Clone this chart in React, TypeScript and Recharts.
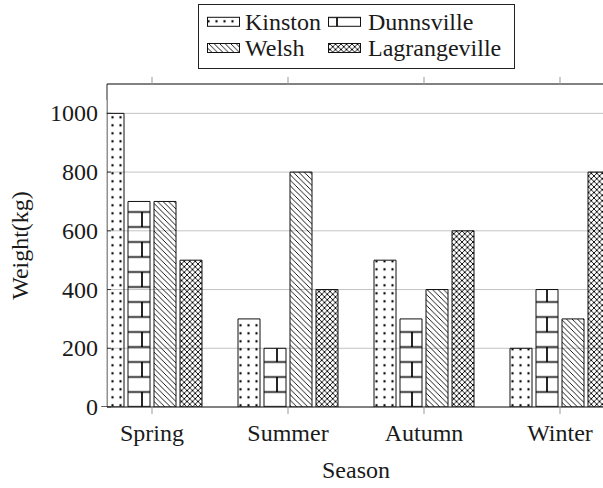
import React from 'react';
import { BarChart, Bar, XAxis, YAxis, CartesianGrid, Label } from 'recharts';

// data
const seasons = ['Spring', 'Summer', 'Autumn', 'Winter'];
const kinston = [1000, 300, 500, 200];
const dunnsville = [700, 200, 300, 400];
const welsh = [700, 800, 400, 300];
const lagrangeville = [500, 400, 600, 800];
const yTicks = [0, 200, 400, 600, 800, 1000];

const series = [
  { key: 'Kinston', values: kinston, pattern: 'dots' },
  { key: 'Dunnsville', values: dunnsville, pattern: 'bricks' },
  { key: 'Welsh', values: welsh, pattern: 'nwlines' },
  { key: 'Lagrangeville', values: lagrangeville, pattern: 'crosshatch' },
];

const data = seasons.map((season, i) => {
  const row: Record<string, string | number> = { season };
  series.forEach((s) => {
    row[s.key] = s.values[i];
  });
  return row;
});

const FONT = "'Liberation Serif', serif";
const TEXT = '#1a1a1a';
const textStyle = { fontFamily: FONT, fontSize: 24 };

// tikz-like fill patterns (transparent, like pgfplots)
function Patterns({ prefix }: { prefix: string }) {
  const s = 5.5;
  return (
    <defs>
      <pattern id={`${prefix}-dots`} patternUnits="userSpaceOnUse" x={-3.5} y={1.3} width={8} height={8}>
        <circle cx={4} cy={4} r={1.2} fill="#000" />
      </pattern>
      <pattern id={`${prefix}-bricks`} patternUnits="userSpaceOnUse" x={0} y={-5.5} width={30} height={30}>
        <path
          d="M0,7.5 H30 M0,22.5 H30 M22,7.5 V22.5 M7,22.5 V30 M7,0 V7.5"
          stroke="#000"
          strokeWidth={1.7}
          fill="none"
        />
      </pattern>
      <pattern id={`${prefix}-nwlines`} patternUnits="userSpaceOnUse" width={s} height={s}>
        <path
          d={`M0,0 L${s},${s} M-1,${s - 1} L1,${s + 1} M${s - 1},-1 L${s + 1},1`}
          stroke="#000"
          strokeWidth={0.9}
        />
      </pattern>
      <pattern id={`${prefix}-crosshatch`} patternUnits="userSpaceOnUse" width={s} height={s}>
        <path
          d={`M0,0 L${s},${s} M-1,${s - 1} L1,${s + 1} M${s - 1},-1 L${s + 1},1 M0,${s} L${s},0 M-1,1 L1,-1 M${s - 1},${s + 1} L${s + 1},${s - 1}`}
          stroke="#000"
          strokeWidth={0.9}
        />
      </pattern>
    </defs>
  );
}

const XTick = (props: any) => {
  const { x, y, payload } = props;
  return (
    <text x={x} y={y + 27} textAnchor="middle" fill={TEXT} style={textStyle}>
      {payload.value}
    </text>
  );
};

const NoTick = () => <g />;

const YTick = (props: any) => {
  const { x, y, payload } = props;
  return (
    <g>
      <line x1={x + 9} x2={x + 13} y1={y} y2={y} stroke="#333" />
      <text x={x} y={y} dy={8} textAnchor="end" fill={TEXT} style={textStyle}>
        {payload.value}
      </text>
    </g>
  );
};

const YTitle = (props: any) => {
  const vb = props.viewBox || {};
  const cy = (vb.y ?? 84) + (vb.height ?? 323) / 2;
  return (
    <text
      x={28}
      y={cy}
      transform={`rotate(-90 28 ${cy})`}
      textAnchor="middle"
      fill={TEXT}
      style={textStyle}
    >
      Weight(kg)
    </text>
  );
};

const XTitle = (props: any) => {
  const vb = props.viewBox || {};
  const cx = (vb.x ?? 107) + (vb.width ?? 498) / 2;
  return (
    <text x={cx} y={478} textAnchor="middle" fill={TEXT} style={textStyle}>
      Season
    </text>
  );
};

function Overlay() {
  const cols = [207, 328];
  const textX = [245, 368];
  const rows = [21.8, 48];
  return (
    <svg
      width={603}
      height={488}
      style={{ position: 'absolute', left: 0, top: 0, pointerEvents: 'none' }}
    >
      <Patterns prefix="lg" />
      {/* hide the part of the first bar that sticks out left of the y axis */}
      <rect x={99} y={100} width={7.5} height={306} fill="#fff" />
      <rect x={198.5} y={4.5} width={316} height={64} fill="#fff" stroke="#222" strokeWidth={1} />
      {series.map((s, i) => {
        const c = i % 2;
        const r = Math.floor(i / 2);
        const cy = rows[r];
        return (
          <g key={s.key}>
            <rect
              x={cols[c] + 0.5}
              y={cy - 4.5}
              width={32}
              height={9}
              fill={`url(#lg-${s.pattern})`}
              stroke="#111"
            />
            <text x={textX[c]} y={cy + 8} fill={TEXT} style={textStyle}>
              {s.key}
            </text>
          </g>
        );
      })}
    </svg>
  );
}

export default function App() {
  return (
    <div
      style={{
        position: 'absolute',
        left: 0,
        top: 0,
        width: 603,
        height: 488,
        overflow: 'hidden',
        background: '#fff',
      }}
    >
      <BarChart
        width={640}
        height={488}
        data={data}
        margin={{ top: 0, right: 35, bottom: 0, left: 0 }}
        barSize={22}
        barGap={4}
      >
        <Patterns prefix="p" />
        <CartesianGrid vertical={false} stroke="#c4c4c4" />
        <XAxis
          dataKey="season"
          height={81}
          padding={{ left: -23, right: -23 }}
          tickSize={7}
          tickMargin={0}
          axisLine={{ stroke: '#222' }}
          tickLine={{ stroke: '#999' }}
          tick={<XTick />}
        >
          <Label content={<XTitle />} />
        </XAxis>
        <XAxis
          xAxisId="top"
          orientation="top"
          dataKey="season"
          height={84}
          padding={{ left: -23, right: -23 }}
          tickSize={7}
          tick={<NoTick />}
          axisLine={{ stroke: '#222' }}
          tickLine={{ stroke: '#999' }}
        />
        <YAxis
          domain={[0, 1100]}
          ticks={yTicks}
          width={107}
          allowDataOverflow
          tickSize={0}
          tickMargin={9}
          tickLine={false}
          axisLine={{ stroke: '#222' }}
          tick={<YTick />}
        >
          <Label content={<YTitle />} />
        </YAxis>
        {series.map((s) => (
          <Bar
            key={s.key}
            dataKey={s.key}
            fill={`url(#p-${s.pattern})`}
            stroke="#111"
            strokeWidth={1}
            isAnimationActive={false}
          />
        ))}
      </BarChart>
      <Overlay />
    </div>
  );
}
